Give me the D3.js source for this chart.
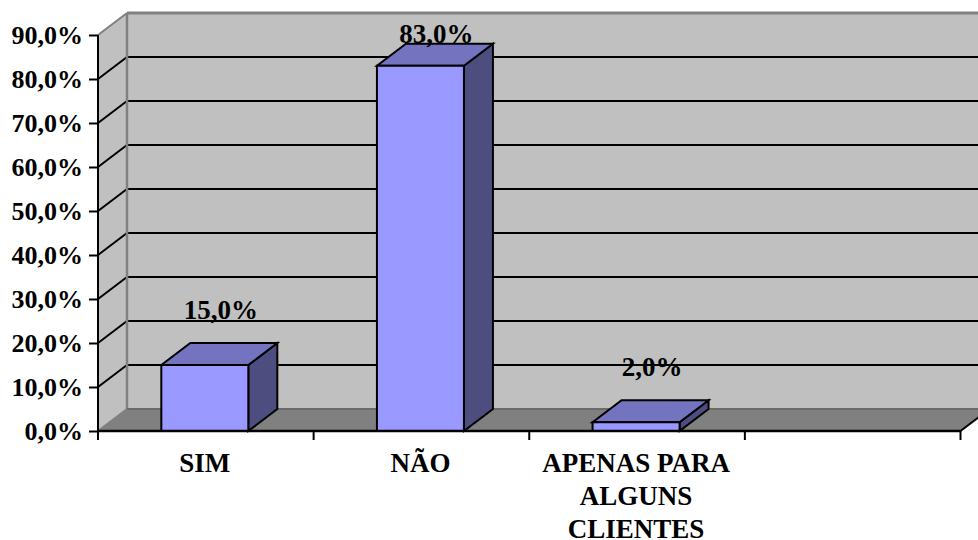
<!DOCTYPE html>
<html>
<head>
<meta charset="utf-8">
<script src="https://cdn.jsdelivr.net/npm/d3@7"></script>
<style>
  html, body { margin: 0; padding: 0; background: #fff; }
  svg { display: block; }
  text { font-family: "Liberation Serif", serif; font-weight: bold; fill: #000; }
</style>
</head>
<body>
<svg id="chart" width="978" height="540"></svg>
<script>
const categories = ["SIM", "NÃO", "APENAS PARA ALGUNS CLIENTES", ""];
const values = [15, 83, 2];
const valueLabels = ["15,0%", "83,0%", "2,0%"];
const yTicks = [0, 10, 20, 30, 40, 50, 60, 70, 80, 90];
const categoryLines = [["SIM"], ["NÃO"], ["APENAS PARA", "ALGUNS", "CLIENTES"], []];

const svg = d3.select("#chart");
const depthX = 29, depthY = -22;
const y = d3.scaleLinear().domain([0, 90]).range([431, 35]);
const x = d3.scaleBand().domain(categories).range([98, 960.5]);
const barWidth = 87;

const left = x.range()[0], right = x.range()[1];
const poly = (pts, fill, stroke, sw) => svg.append("polygon")
  .attr("points", pts.map(p => p.join(",")).join(" "))
  .attr("fill", fill).attr("stroke", stroke || "none").attr("stroke-width", sw || 0)
  .attr("stroke-linejoin", "miter");
const line = (x1, y1, x2, y2, stroke, sw) => svg.append("line")
  .attr("x1", x1).attr("y1", y1).attr("x2", x2).attr("y2", y2)
  .attr("stroke", stroke).attr("stroke-width", sw);

// Back wall, side wall and floor of the 3D box
const plotTop = y(90), base = y(0);
poly([[left + depthX, plotTop + depthY], [right + depthX, plotTop + depthY], [right + depthX, base + depthY], [left + depthX, base + depthY]], "#c0c0c0");
poly([[left, plotTop], [left + depthX, plotTop + depthY], [left + depthX, base + depthY], [left, base]], "#c0c0c0");
poly([[left, base], [left + depthX, base + depthY], [right + depthX, base + depthY], [right, base]], "#808080");

// Gridlines run along the back wall and fold down the side wall
yTicks.filter(t => t > 0 && t < 90).forEach(t => {
  line(left, y(t), left + depthX, y(t) + depthY, "#000", 2);
  line(left + depthX, y(t) + depthY, right + depthX, y(t) + depthY, "#000", 2);
});

// Wall edges
line(left + depthX, plotTop + depthY, left + depthX, base + depthY, "#808080", 2.5);
line(left + depthX, plotTop + depthY, right + depthX, plotTop + depthY, "#808080", 3);
line(left, plotTop, left + depthX, plotTop + depthY, "#808080", 2);
line(left, base, left + depthX, base + depthY, "#808080", 2);
line(left + depthX, base + depthY, right + depthX, base + depthY, "#6a6a6a", 2);
line(right, base, right + depthX, base + depthY, "#000", 2);

// Bars as front, top and side faces
values.forEach((v, i) => {
  const x0 = x(categories[i]) + x.bandwidth() / 2 - barWidth / 2 - 1;
  const x1 = x0 + barWidth;
  const yt = y(v);
  const sw = 2;
  poly([[x1, yt], [x1 + depthX, yt + depthY], [x1 + depthX, base + depthY], [x1, base]], "#4d4d80", "#000", sw);
  poly([[x0, yt], [x0 + depthX, yt + depthY], [x1 + depthX, yt + depthY], [x1, yt]], "#7373bf", "#000", sw);
  poly([[x0, yt], [x1, yt], [x1, base], [x0, base]], "#9999ff", "#000", sw);
});

// Axes
const yAxis = d3.axisLeft(y).tickValues(yTicks).tickSize(9).tickPadding(6)
  .tickFormat(t => d3.format(".1f")(t).replace(".", ",") + "%");
const yG = svg.append("g").attr("transform", `translate(${left},0)`).call(yAxis);
yG.attr("font-family", null).attr("font-size", null);
yG.select(".domain").attr("stroke", "#000").attr("stroke-width", 2).attr("d", `M0,${plotTop}V${base + 8}`);
yG.selectAll(".tick line").attr("stroke", "#000").attr("stroke-width", 2);
yG.selectAll(".tick text").attr("font-size", 26).attr("dy", "0.33em").attr("fill", "#000");

const xTickPositions = categories.map(c => x(c)).concat(right);
const xAxis = svg.append("g");
xAxis.append("line").attr("x1", left).attr("x2", right).attr("y1", base).attr("y2", base)
  .attr("stroke", "#000").attr("stroke-width", 2.5);
xAxis.selectAll("line.tick").data(xTickPositions).join("line").attr("class", "tick")
  .attr("x1", d => d).attr("x2", d => d).attr("y1", base).attr("y2", base + 9)
  .attr("stroke", "#000").attr("stroke-width", 2);

// Wrapped category labels
categories.forEach((c, i) => {
  const t = svg.append("text").attr("text-anchor", "middle").attr("font-size", 27);
  categoryLines[i].forEach((ln, j) => {
    t.append("tspan").attr("x", x(c) + x.bandwidth() / 2 - 1).attr("y", 472 + j * 33).text(ln);
  });
});

// Value labels sit above each bar, held inside the top of the chart
values.forEach((v, i) => {
  svg.append("text").attr("text-anchor", "middle").attr("font-size", 27)
    .attr("x", x(categories[i]) + x.bandwidth() / 2 + 15)
    .attr("y", Math.max(y(v) - 46, 43))
    .text(valueLabels[i]);
});
</script>
</body>
</html>
